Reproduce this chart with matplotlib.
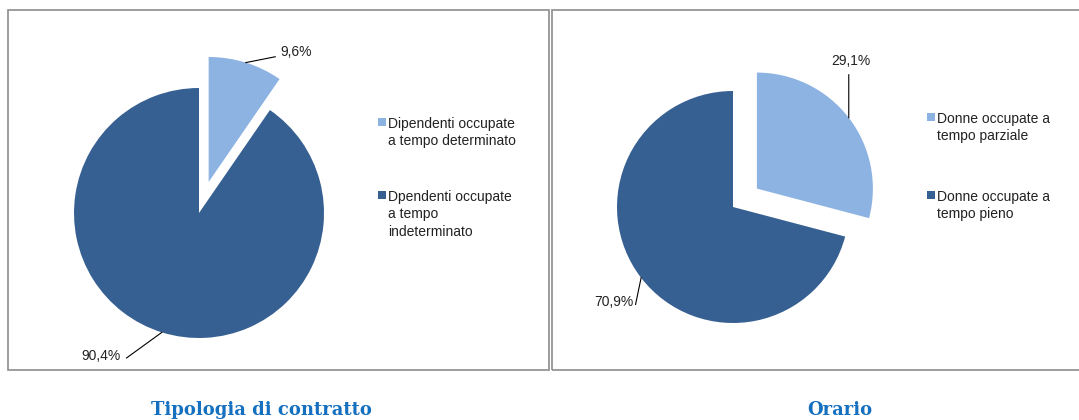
import numpy as np
import matplotlib.pyplot as plt
from matplotlib.patches import Rectangle

# Dati
contratto_labels = ['Dipendenti occupate\na tempo determinato',
                    'Dpendenti occupate\na tempo\nindeterminato']
contratto_values = [9.6, 90.4]
contratto_text = ['9,6%', '90,4%']

orario_labels = ['Donne occupate a\ntempo parziale',
                 'Donne occupate a\ntempo pieno']
orario_values = [29.1, 70.9]
orario_text = ['29,1%', '70,9%']

colors = ['#8DB3E2', '#376092']
W, H = 1079, 420
plt.rcParams['font.family'] = ['Liberation Sans', 'DejaVu Sans']

fig = plt.figure(figsize=(W / 100, H / 100), dpi=100)
fig.patch.set_facecolor('white')


def fx(x):
    return x / W


def fy(y):
    return 1 - y / H


# Cornici dei due pannelli
for x0, x1 in [(8, 549), (552, 1090)]:
    fig.add_artist(Rectangle((fx(x0), fy(370)), (x1 - x0) / W, 360 / H,
                             fill=False, ec='#8C8C8C', lw=1.2,
                             transform=fig.transFigure))


def torta(cx, cy, radius, values, texts, label_pos, labels, leg_x, leg_y, leg_gap):
    half = 150
    ax = fig.add_axes([fx(cx - half), fy(cy + half), 2 * half / W, 2 * half / H])
    lim = half / radius
    wedges, _ = ax.pie(values, colors=colors, startangle=90, counterclock=False,
                       explode=[0.26, 0], radius=1)
    ax.set_xlim(-lim, lim)
    ax.set_ylim(-lim, lim)
    ax.set_aspect('equal')
    ax.axis('off')

    # Etichette con linee di richiamo
    for w, t, (tx, ty, ha, lx, ly) in zip(wedges, texts, label_pos):
        ang = np.deg2rad((w.theta1 + w.theta2) / 2)
        ax0, ay0 = w.center[0] + w.r * np.cos(ang), w.center[1] + w.r * np.sin(ang)
        ax.plot([lx, ax0], [ly, ay0], color='black', lw=0.8, clip_on=False)
        ax.text(tx, ty, t, ha=ha, va='center', fontsize=10, color='#222222')

    # Legenda
    y = leg_y
    for lab, c in zip(labels, colors):
        fig.add_artist(Rectangle((fx(leg_x), fy(y + 4)), 8 / W, 8 / H,
                                 fc=c, ec='none', transform=fig.transFigure))
        fig.text(fx(leg_x + 10), fy(y - 5), lab, ha='left', va='top',
                 fontsize=10, color='#222222', linespacing=1.3)
        y += leg_gap


torta(199, 213, 125, contratto_values, contratto_text,
      [(0.65, 1.29, 'left', 0.61, 1.25), (-0.63, -1.14, 'right', -0.58, -1.16)],
      contratto_labels, 378, 122, 73)
torta(733, 207, 116, orario_values, orario_text,
      [(1.02, 1.26, 'center', 0.998, 1.14), (-0.86, -0.82, 'right', -0.84, -0.84)],
      orario_labels, 927, 117, 78)

# Titoli sotto i grafici
for x, t in [(261, 'Tipologia di contratto'), (840, 'Orario')]:
    fig.text(fx(x), fy(415), t, ha='center', va='baseline', fontsize=13,
             fontweight='bold', family='DejaVu Serif', color='#1570C0')

fig.savefig('out.png', dpi=100, facecolor='white')
